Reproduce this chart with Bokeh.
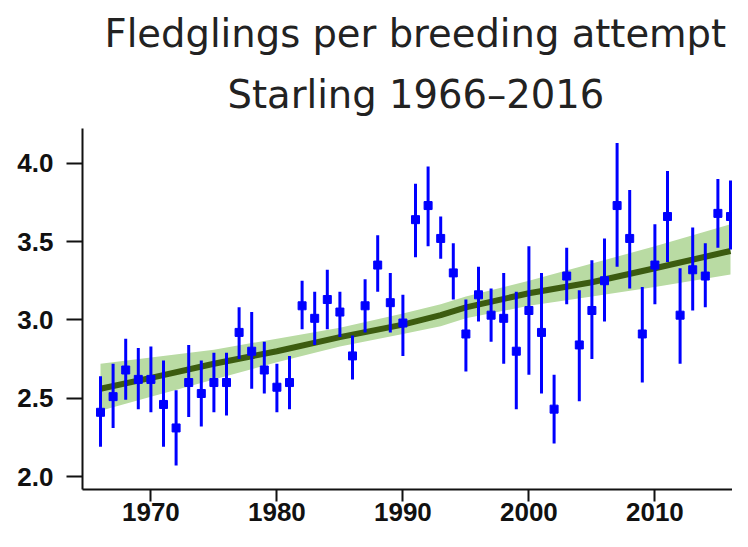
from bokeh.plotting import figure
from bokeh.models import Range1d, FixedTicker, PrintfTickFormatter, Title, ColumnDataSource
from bokeh.embed import file_html
from bokeh.resources import INLINE

# ---- data ----
years = [1966, 1967, 1968, 1969, 1970, 1971, 1972, 1973, 1974, 1975,
         1976, 1977, 1978, 1979, 1980, 1981, 1982, 1983, 1984, 1985,
         1986, 1987, 1988, 1989, 1990, 1991, 1992, 1993, 1994, 1995,
         1996, 1997, 1998, 1999, 2000, 2001, 2002, 2003, 2004, 2005,
         2006, 2007, 2008, 2009, 2010, 2011, 2012, 2013, 2014, 2015, 2016]
mean = [2.41, 2.51, 2.68, 2.62, 2.62, 2.46, 2.31, 2.60, 2.53, 2.60,
        2.60, 2.92, 2.80, 2.68, 2.57, 2.60, 3.09, 3.01, 3.13, 3.05,
        2.77, 3.09, 3.35, 3.11, 2.98, 3.64, 3.73, 3.52, 3.30, 2.91,
        3.16, 3.03, 3.01, 2.80, 3.06, 2.92, 2.43, 3.28, 2.84, 3.06,
        3.25, 3.73, 3.52, 2.91, 3.35, 3.66, 3.03, 3.32, 3.28, 3.68, 3.66]
upper = [2.64, 2.72, 2.88, 2.82, 2.83, 2.74, 2.55, 2.84, 2.74, 2.79,
         2.79, 3.08, 3.05, 2.86, 2.72, 2.77, 3.25, 3.18, 3.32, 3.18,
         2.90, 3.26, 3.54, 3.30, 3.16, 3.87, 3.98, 3.66, 3.49, 3.13,
         3.34, 3.20, 3.30, 3.18, 3.47, 3.30, 2.65, 3.46, 3.19, 3.38,
         3.52, 4.13, 3.83, 3.21, 3.61, 3.95, 3.33, 3.59, 3.49, 3.90, 3.89]
lower = [2.19, 2.31, 2.49, 2.43, 2.41, 2.19, 2.07, 2.38, 2.32, 2.41,
         2.39, 2.75, 2.56, 2.53, 2.41, 2.43, 2.94, 2.84, 2.94, 2.89,
         2.62, 2.92, 3.18, 2.92, 2.77, 3.40, 3.47, 3.39, 3.13, 2.67,
         2.99, 2.86, 2.72, 2.43, 2.65, 2.53, 2.21, 3.10, 2.48, 2.75,
         2.99, 3.34, 3.20, 2.60, 3.10, 3.37, 2.72, 3.06, 3.08, 3.46, 3.45]

trend_years = [1966, 1970, 1975, 1980, 1985, 1990, 1993, 1995, 2000, 2005, 2010, 2016]
trend = [2.56, 2.63, 2.72, 2.80, 2.89, 2.97, 3.03, 3.08, 3.17, 3.24, 3.33, 3.44]
trend_upper = [2.72, 2.76, 2.81, 2.88, 2.95, 3.04, 3.10, 3.15, 3.25, 3.36, 3.47, 3.61]
trend_lower = [2.42, 2.51, 2.62, 2.73, 2.83, 2.91, 2.96, 3.01, 3.09, 3.15, 3.21, 3.29]

x_ticks = [1970, 1980, 1990, 2000, 2010]
y_ticks = [2.0, 2.5, 3.0, 3.5, 4.0]
title_line1 = "Fledglings per breeding attempt"
title_line2 = "Starling  1966\u20132016"

# ---- figure ----
p = figure(width=732, height=531, output_backend="svg", toolbar_location=None,
           x_range=Range1d(1964.571, 2016.159), y_range=Range1d(1.917, 4.222),
           min_border_left=82, min_border_right=0, min_border_top=128,
           min_border_bottom=42)
p.outline_line_color = None
p.xgrid.visible = False
p.ygrid.visible = False
p.background_fill_color = "white"
p.border_fill_color = "white"

band = ColumnDataSource(dict(x=trend_years, y1=trend_lower, y2=trend_upper, t=trend))
p.varea(x="x", y1="y1", y2="y2", source=band, fill_color="#b9dba3", fill_alpha=1.0)
p.line(x="x", y="t", source=band, line_color="#3c5c10", line_width=6)

pts = ColumnDataSource(dict(x=years, m=mean, lo=lower, hi=upper))
p.segment(x0="x", y0="lo", x1="x", y1="hi", source=pts, line_color="#0000ff", line_width=3)
p.scatter(x="x", y="m", source=pts, marker="square", size=8,
          fill_color="#0000ff", line_color="#0000ff")

for ax in (p.xaxis[0], p.yaxis[0]):
    ax.axis_line_width = 2
    ax.axis_line_color = "#111111"
    ax.major_tick_line_width = 2
    ax.major_tick_line_color = "#111111"
    ax.major_tick_in = 0
    ax.minor_tick_line_color = None
    ax.major_label_text_font = "Liberation Sans"
    ax.major_label_text_font_style = "bold"
    ax.major_label_text_color = "#111111"

p.xaxis.ticker = FixedTicker(ticks=x_ticks)
p.xaxis.major_tick_out = 12
p.xaxis.major_label_text_font_size = "26px"
p.xaxis.major_label_standoff = 1
p.yaxis.ticker = FixedTicker(ticks=y_ticks)
p.yaxis.formatter = PrintfTickFormatter(format="%.1f")
p.yaxis.major_tick_out = 16
p.yaxis.major_label_text_font_size = "26px"
p.yaxis.major_label_standoff = 13

p.add_layout(Title(text=title_line2, align="left", offset=145, standoff=24,
                   text_font="DejaVu Sans", text_font_size="38.5px",
                   text_font_style="normal", text_color="#222222"), "above")
p.add_layout(Title(text=title_line1, align="left", offset=22, standoff=3,
                   text_font="DejaVu Sans", text_font_size="38.5px",
                   text_font_style="normal", text_color="#222222"), "above")

open("out.html", "w").write(file_html(p, INLINE))
